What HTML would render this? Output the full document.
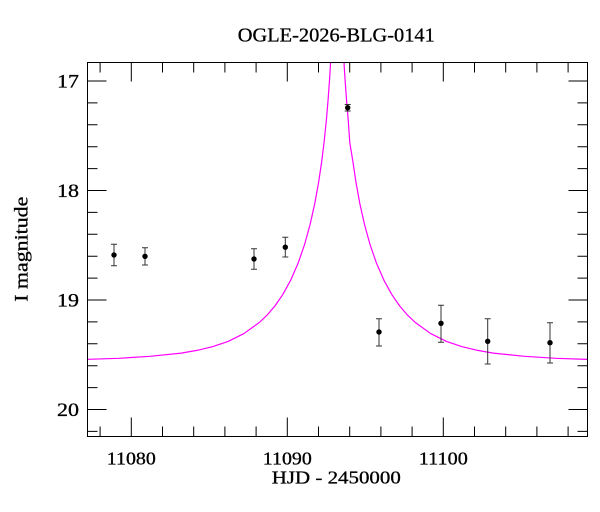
<!DOCTYPE html>
<html>
<head>
<meta charset="utf-8">
<style>
html,body{margin:0;padding:0;background:#fff;}
svg{display:block;}
text{font-family:"Liberation Serif","DejaVu Serif",serif;fill:#000;stroke:#000;stroke-width:0.3;}
</style>
</head>
<body>
<svg width="600" height="512" viewBox="0 0 600 512" xmlns="http://www.w3.org/2000/svg">
<rect x="0" y="0" width="600" height="512" fill="#fff"/>
<defs>
<clipPath id="pa"><rect x="88" y="63" width="499" height="373"/></clipPath>
</defs>

<!-- title -->
<text x="336.3" y="41.5" font-size="20" text-anchor="middle" textLength="197" lengthAdjust="spacingAndGlyphs">OGLE-2026-BLG-0141</text>

<!-- curve -->
<polyline clip-path="url(#pa)" fill="none" stroke="#ff00ff" stroke-width="1.2" stroke-linejoin="round"
points="79.9,359.6 118.9,358.3 150.1,356.3 181.3,353.1 196.9,350.4 212.5,346.7 228.1,341.4 243.7,333.7 259.3,322.5 267.1,315.1 274.9,306.0 282.7,294.7 290.5,280.6 298.3,262.7 304.54,244.6 310.0,224.9 314.68,204.0 318.58,182.5 321.7,161.5 324.04,142.6 326.38,119.9 327.94,101.7 329.5,80.2 330.28,67.8 330.75,59.6 331.68,41.4 342.92,41.4 343.85,59.6 344.32,67.8 345.1,80.2 346.66,101.7 348.22,119.9 349.78,142.6 352.9,161.5 356.02,182.5 359.92,204.0 364.6,224.9 370.06,244.6 376.3,262.7 384.1,280.6 391.9,294.7 399.7,306.0 407.5,315.1 415.3,322.5 430.9,333.7 446.5,341.4 462.1,346.7 477.7,350.4 493.3,353.1 524.5,356.3 555.7,358.3 594.7,359.6"/>

<!-- frame -->
<rect x="87.5" y="62.5" width="500" height="374" fill="none" stroke="#000" stroke-width="1"/>

<!-- ticks -->
<g stroke="#000" stroke-width="1">
<path d="M87.5,81H106.5M87.5,190.5H106.5M87.5,300H106.5M87.5,409.5H106.5
M587.5,81H568.5M587.5,190.5H568.5M587.5,300H568.5M587.5,409.5H568.5"/>
<path d="M87.5,102.9H97.5M87.5,124.8H97.5M87.5,146.7H97.5M87.5,168.6H97.5
M87.5,212.4H97.5M87.5,234.3H97.5M87.5,256.2H97.5M87.5,278.1H97.5
M87.5,321.9H97.5M87.5,343.8H97.5M87.5,365.7H97.5M87.5,387.6H97.5
M87.5,431.4H97.5
M587.5,102.9H577.5M587.5,124.8H577.5M587.5,146.7H577.5M587.5,168.6H577.5
M587.5,212.4H577.5M587.5,234.3H577.5M587.5,256.2H577.5M587.5,278.1H577.5
M587.5,321.9H577.5M587.5,343.8H577.5M587.5,365.7H577.5M587.5,387.6H577.5
M587.5,431.4H577.5"/>
<path d="M131.3,436.5V417.5M287.3,436.5V417.5M443.3,436.5V417.5
M131.3,62.5V81.5M287.3,62.5V81.5M443.3,62.5V81.5"/>
<path d="M100.1,436.5V426.5M162.5,436.5V426.5M193.7,436.5V426.5M224.9,436.5V426.5M256.1,436.5V426.5
M318.5,436.5V426.5M349.7,436.5V426.5M380.9,436.5V426.5M412.1,436.5V426.5
M474.5,436.5V426.5M505.7,436.5V426.5M536.9,436.5V426.5M568.1,436.5V426.5
M100.1,62.5V72.5M162.5,62.5V72.5M193.7,62.5V72.5M224.9,62.5V72.5M256.1,62.5V72.5
M318.5,62.5V72.5M349.7,62.5V72.5M380.9,62.5V72.5M412.1,62.5V72.5
M474.5,62.5V72.5M505.7,62.5V72.5M536.9,62.5V72.5M568.1,62.5V72.5"/>
</g>

<!-- y tick labels -->
<g font-size="19" text-anchor="end">
<text x="79" y="87.5" textLength="22" lengthAdjust="spacingAndGlyphs">17</text>
<text x="79" y="197" textLength="22" lengthAdjust="spacingAndGlyphs">18</text>
<text x="79" y="306.5" textLength="22" lengthAdjust="spacingAndGlyphs">19</text>
<text x="79" y="416" textLength="22" lengthAdjust="spacingAndGlyphs">20</text>
</g>

<!-- x tick labels -->
<g font-size="18" text-anchor="middle">
<text x="131.3" y="464.5" textLength="49" lengthAdjust="spacingAndGlyphs">11080</text>
<text x="287.3" y="464.5" textLength="49" lengthAdjust="spacingAndGlyphs">11090</text>
<text x="443.3" y="464.5" textLength="49" lengthAdjust="spacingAndGlyphs">11100</text>
</g>

<!-- axis labels -->
<text x="336.3" y="483.5" font-size="18" text-anchor="middle" textLength="129" lengthAdjust="spacingAndGlyphs">HJD - 2450000</text>
<text transform="translate(27.5,249.2) rotate(-90)" font-size="19" text-anchor="middle" textLength="105" lengthAdjust="spacingAndGlyphs">I magnitude</text>

<!-- data error bars -->
<g stroke="#333" stroke-width="1" fill="none">
<path d="M114,244.3V265.7M111,244.3H117M111,265.7H117"/>
<path d="M145,247.7V265M142,247.7H148M142,265H148"/>
<path d="M254,248.7V269.3M251,248.7H257M251,269.3H257"/>
<path d="M285.3,237.3V257M282.3,237.3H288.3M282.3,257H288.3"/>
<path d="M347.7,104.5V111M344.7,104.5H350.7M344.7,111H350.7"/>
<path d="M379,318.7V346M376,318.7H382M376,346H382"/>
<path d="M441,305.3V342.3M438,305.3H444M438,342.3H444"/>
<path d="M487.7,318.7V364M484.7,318.7H490.7M484.7,364H490.7"/>
<path d="M550,322.7V363M547,322.7H553M547,363H553"/>
</g>
<g fill="#000">
<circle cx="114" cy="255" r="2.7"/>
<circle cx="145" cy="256.3" r="2.7"/>
<circle cx="254" cy="259" r="2.7"/>
<circle cx="285.3" cy="247.2" r="2.7"/>
<circle cx="347.7" cy="107.7" r="2.7"/>
<circle cx="379" cy="332" r="2.7"/>
<circle cx="441" cy="323.3" r="2.7"/>
<circle cx="487.7" cy="341.3" r="2.7"/>
<circle cx="550" cy="342.7" r="2.7"/>
</g>
</svg>
</body>
</html>
